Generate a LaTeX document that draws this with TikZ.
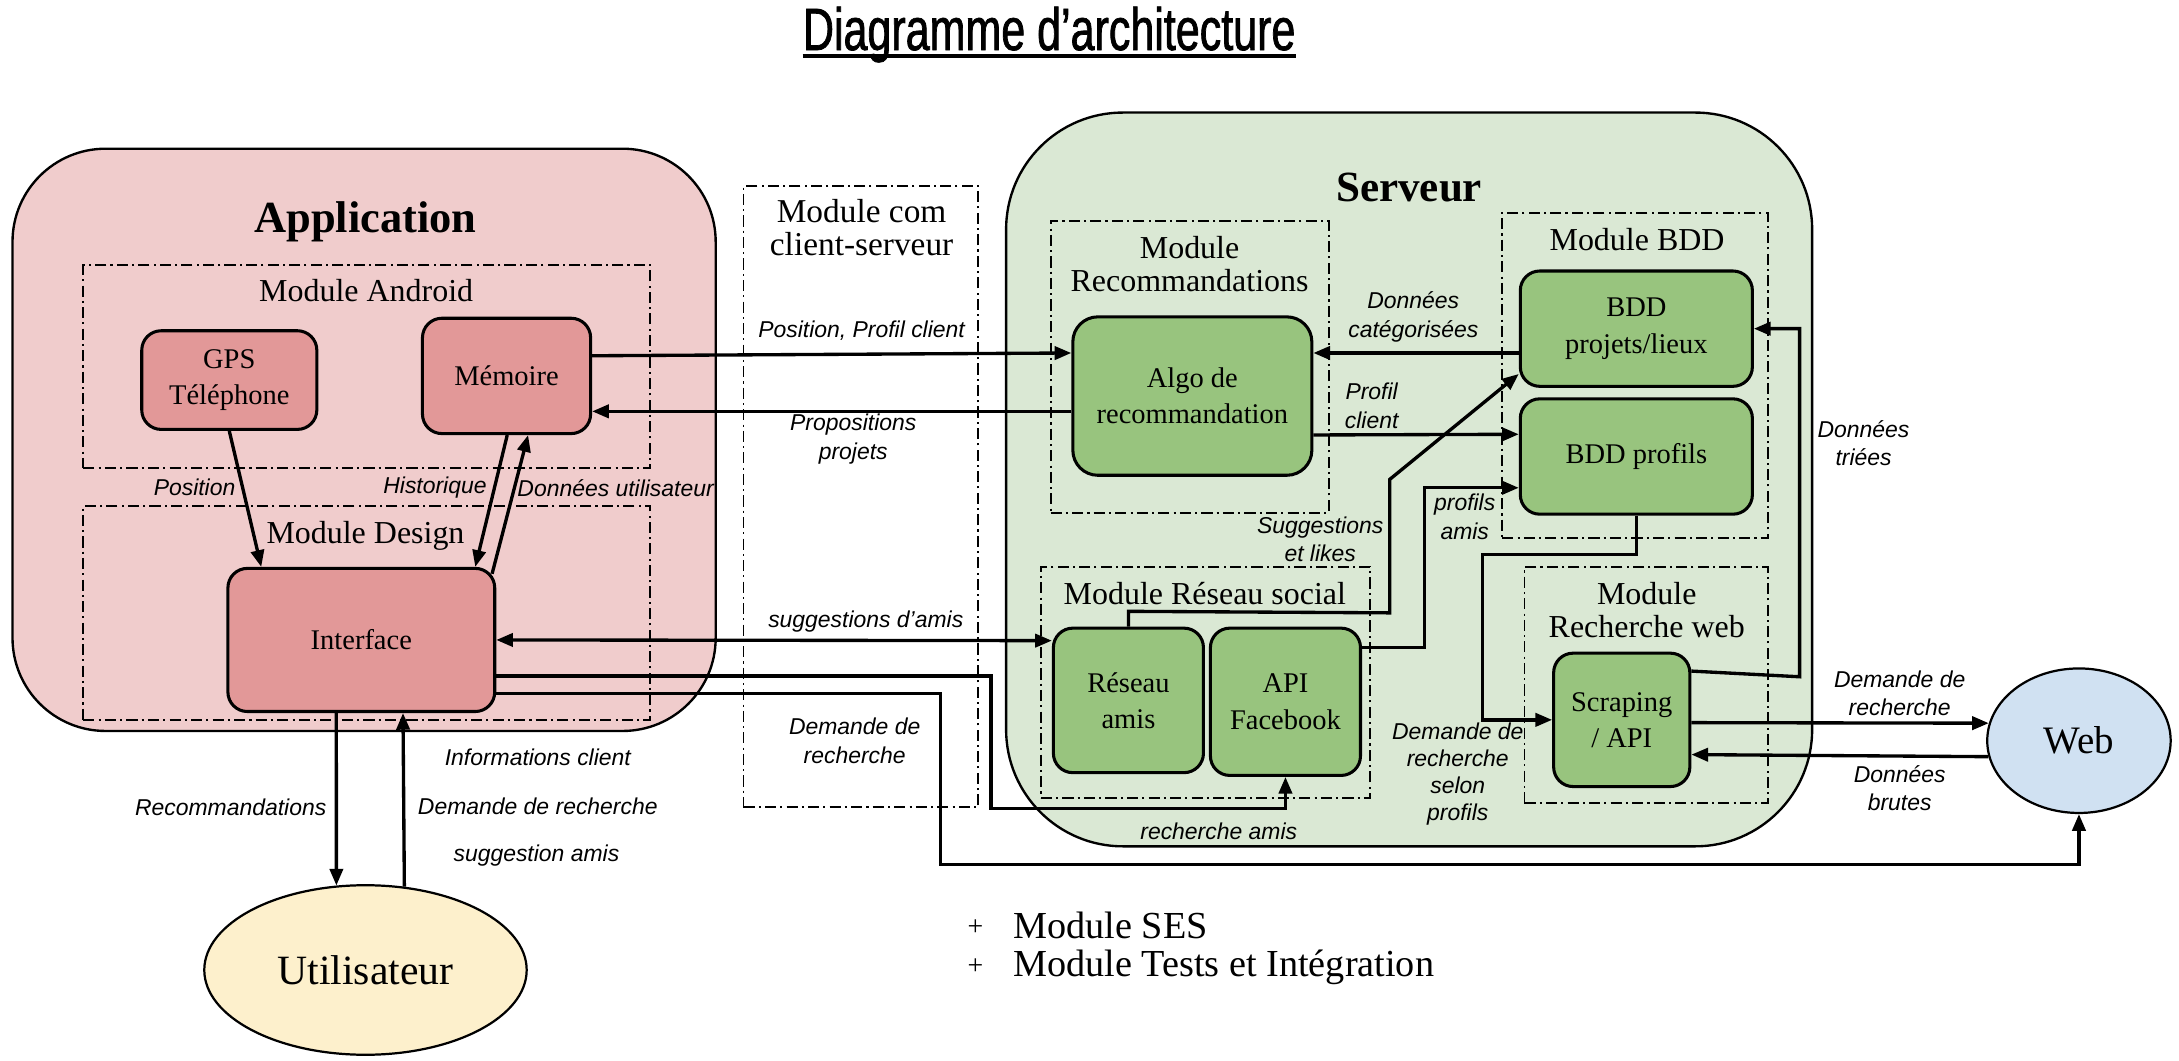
\documentclass[tikz,border=0pt]{standalone}
\usepackage{fontspec}
\setmainfont{Liberation Serif}
\setsansfont{Liberation Sans}
\newfontfamily\titlefont[FakeStretch=0.72,FakeBold=1.2]{Liberation Sans}
\usetikzlibrary{arrows.meta,calc,shapes.geometric}
\definecolor{cAppBg}{HTML}{F0CCCC}
\definecolor{cRedNode}{HTML}{E29898}
\definecolor{cSrvBg}{HTML}{DAE8D4}
\definecolor{cGreenNode}{HTML}{98C47E}
\definecolor{cWeb}{HTML}{D0E1F2}
\definecolor{cUser}{HTML}{FDF0CC}
\begin{document}
\begin{tikzpicture}[x=1pt,y=-1pt,
  >={Triangle[length=12pt,width=9.5pt]},
  container/.style={draw=black,line width=1.7pt,rounded corners=#1,inner sep=0pt},
  modbox/.style={draw=black,line width=1.4pt,dash pattern=on 8pt off 3pt on 1.5pt off 3pt,inner sep=0pt},
  txt/.style={font=\fontsize{20.5}{26}\selectfont,align=center},
  rednode/.style={draw=black,line width=2.2pt,fill=cRedNode,rounded corners=14pt,txt},
  greennode/.style={draw=black,line width=2.2pt,fill=cGreenNode,rounded corners=14pt,txt},
  modlabel/.style={font=\fontsize{23}{23.5}\selectfont,align=center,inner sep=0pt},
  lab/.style={font=\sffamily\itshape\fontsize{16.5}{20.5}\selectfont,align=center,inner sep=0pt},
  conn/.style={line width=2.4pt,->},
  conn2/.style={line width=2.4pt,<->},
  bigtitle/.style={font=\bfseries\fontsize{#1}{#1}\selectfont,anchor=base,inner sep=0pt},
  listtext/.style={font=\fontsize{27.5}{27.5}\selectfont,anchor=base west,inner sep=0pt},
  listplus/.style={font=\fontsize{20}{20}\selectfont,anchor=base,inner sep=0pt}
]
\useasboundingbox (0,0) rectangle (1568,763);

% title
\node[font=\titlefont\fontsize{43}{43}\selectfont,anchor=base,inner sep=0pt] (title) at (755,36) {Diagramme d’architecture};
\draw[line width=2.8pt] ($(title.base west)+(0,4.5)$) -- ($(title.base east)+(0,4.5)$);

% containers
\node[container=67pt,fill=cAppBg,minimum width=506pt,minimum height=419pt] (app) at (262,316.5) {};
\node[container=84pt,fill=cSrvBg,minimum width=580pt,minimum height=528pt] (srv) at (1014,345) {};
\node[bigtitle=32] (tApp) at (263,167) {Application};
\node[bigtitle=31] (tSrv) at (1014,145) {Serveur};

% module boxes
\node[modbox,minimum width=408pt,minimum height=146pt] (mAndroid) at (264,264) {};
\node[modbox,minimum width=408pt,minimum height=154pt] (mDesign) at (264,441) {};
\node[modbox,minimum width=169pt,minimum height=447pt] (mCom) at (619.5,357.5) {};
\node[modbox,minimum width=200pt,minimum height=210pt] (mReco) at (856,264) {};
\node[modbox,minimum width=191pt,minimum height=234pt] (mBDD) at (1176.5,270) {};
\node[modbox,minimum width=237pt,minimum height=166pt] (mRS) at (867.5,491) {};
\node[modbox,minimum width=175pt,minimum height=170pt] (mRW) at (1184.5,493) {};

\node[modlabel,anchor=base] (lAndroid) at (263.5,217) {Module Android};
\node[modlabel,anchor=base] (lDesign) at (263,391) {Module Design};
\node[modlabel,font=\fontsize{24}{24}\selectfont] (lCom) at (620,164) {Module com\\client-serveur};
\node[modlabel] (lReco) at (856,190) {Module\\Recommandations};
\node[modlabel,anchor=base] (lBDD) at (1178,180) {Module BDD};
\node[modlabel,anchor=base] (lRS) at (867,435) {Module Réseau social};
\node[modlabel] (lRW) at (1185,439) {Module\\Recherche web};

% nodes
\node[rednode,minimum width=126pt,minimum height=71pt] (gps) at (165,273.5) {GPS\\Téléphone};
\node[rednode,minimum width=121pt,minimum height=83pt] (mem) at (364.5,270.5) {Mémoire};
\node[rednode,minimum width=192pt,minimum height=103pt] (iface) at (260,460.5) {Interface};
\node[greennode,rounded corners=18pt,minimum width=172pt,minimum height=114pt] (algo) at (858,285) {Algo de\\recommandation};
\node[greennode,minimum width=167pt,minimum height=83pt] (bddp) at (1177.5,236.5) {BDD\\projets/lieux};
\node[greennode,minimum width=167pt,minimum height=83pt] (bddf) at (1177.5,328.5) {BDD profils};
\node[greennode,minimum width=108pt,minimum height=104pt] (reseau) at (812,504) {Réseau\\amis};
\node[greennode,minimum width=108pt,minimum height=106pt] (api) at (925,505) {API\\Facebook};
\node[greennode,minimum width=98pt,minimum height=96pt] (scrap) at (1167,518) {Scraping\\/ API};
\node[draw,line width=1.6pt,ellipse,fill=cWeb,minimum width=132pt,minimum height=104pt,inner sep=0pt,font=\fontsize{28}{28}\selectfont] (web) at (1496,533) {Web};
\node[draw,line width=1.6pt,ellipse,fill=cUser,minimum width=232pt,minimum height=122pt,inner sep=0pt,font=\fontsize{30}{30}\selectfont] (user) at (263,698) {Utilisateur};

% connectors
\draw[conn] (gps.south) -- ($(iface.north)+(-72,0)$);
\draw[conn] ($(mem.south)+(0.5,0)$) -- ($(iface.north)+(82,0)$);
\draw[conn] ($(iface.north east)+(-3,5)$) -- ($(mem.south)+(15.5,0)$);
\draw[conn] ($(mem.east)+(0,-14.5)$) -- ($(algo.west)+(0,-31)$);
\draw[conn] ($(algo.west)+(0,11)$) -- ($(mem.east)+(0,25.5)$);
\draw[conn] ($(bddp.west)+(0,17.5)$) -- ($(algo.east)+(0,-31)$);
\draw[conn] ($(algo.east)+(0,28)$) -- ($(bddf.west)+(0,-16)$);
\draw[conn] (reseau.north) -- ++(0,-11) -- (1000,441) -- (1000,345) -- ($(bddp.south west)+(0,-10)$);
\draw[conn] ($(api.east)+(0,-39)$) -- (1025,466) -- (1025,351) -- ($(bddf.west)+(0,22.5)$);
\draw[conn] (bddf.south) -- ++(0,28) -| (1067,518) -- (scrap.west);
\draw[conn] ($(scrap.north east)+(0,14)$) -- (1295,487) -- (1295,236.5) -- (bddp.east);
\draw[conn] ($(scrap.east)+(0,2)$) -- (web.169);
\draw[conn] (web.190) -- ($(scrap.east)+(0,25)$);
\draw[conn2] (iface.east) -- ($(reseau.west)+(0,-43)$);
\draw[conn] ($(iface.east)+(0,26)$) -| (713,582) -| (api.south);
\draw[conn] ($(iface.east)+(0,38.5)$) -| (677,622) -| (web.south);
\draw[conn] ($(iface.south)+(-18,0)$) -- (user.109);
\draw[conn] (user.65) -- ($(iface.south)+(30,0)$);

% connector labels
\node[lab] (lPos) at (140,351) {Position};
\node[lab] (lHist) at (313,351) {Historique};
\node[lab] (lDon) at (443,351) {Données utilisateur};
\node[lab] (lPPC) at (620,238) {Position, Profil client};
\node[lab] (lProp) at (614,316) {Propositions\\projets};
\node[lab] (lCat) at (1017,228) {Données\\catégorisées};
\node[lab] (lProf) at (987,292) {Profil\\client};
\node[lab] (lSugg) at (950,388) {Suggestions\\et likes};
\node[lab] (lPA) at (1054,372) {profils\\amis};
\node[lab] (lTri) at (1341,319) {Données\\triées};
\node[lab] (lDem1) at (1367,499) {Demande de\\recherche};
\node[lab] (lBrut) at (1367,567) {Données\\brutes};
\node[lab,font=\sffamily\itshape\fontsize{16.5}{19.5}\selectfont] (lSelon) at (1049,557) {Demande de\\recherche\\selon\\profils};
\node[lab] (lSA) at (623,447) {suggestions d’amis};
\node[lab] (lDem2) at (615,533) {Demande de\\recherche};
\node[lab] (lRA) at (877,598) {recherche amis};
\node[lab] (lInfo) at (387,545) {Informations client};
\node[lab] (lDR) at (387,580) {Demande de recherche};
\node[lab] (lSug2) at (386,616) {suggestion amis};
\node[lab] (lReco2) at (166,581) {Recommandations};

% bottom list
\node[listplus] (p1) at (702,673) {+};
\node[listtext] (ses) at (729,675) {Module SES};
\node[listplus] (p2) at (702,701) {+};
\node[listtext] (tests) at (729,703) {Module Tests et Intégration};
\end{tikzpicture}
\end{document}
